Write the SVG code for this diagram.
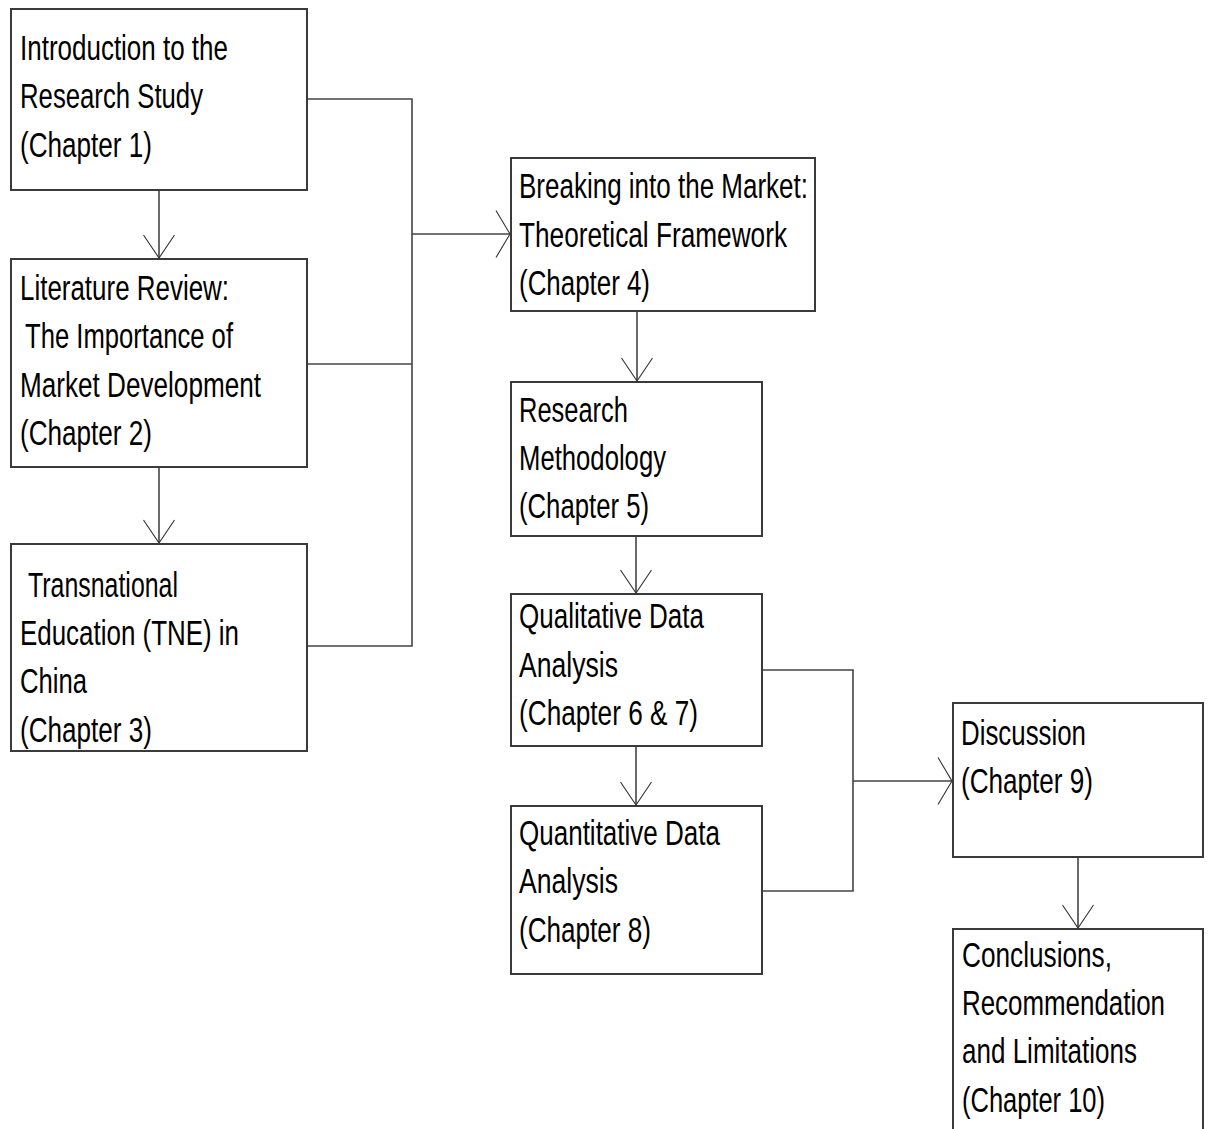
<svg xmlns="http://www.w3.org/2000/svg" width="1211" height="1129" viewBox="0 0 1211 1129">
  <style>
    .box { fill: #ffffff; stroke: #3a3a3a; stroke-width: 2; }
    .lbl { font-family: "Liberation Sans Narrow", "Liberation Sans", Arial, sans-serif; font-size: 35.5px; fill: #000000; }
    .wire { fill: none; stroke: #444444; stroke-width: 1.6; }
    .head { fill: none; stroke: #333333; stroke-width: 1.1; }
  </style>
  <defs>
    <!-- open V arrowheads, one for downward and one for rightward lines -->
    <marker id="arrow-down" markerUnits="userSpaceOnUse" markerWidth="34" markerHeight="26" refX="16" refY="24" orient="0" overflow="visible">
      <path class="head" d="M0.5,1 L16,24 L31.5,1"/>
    </marker>
    <marker id="arrow-right" markerUnits="userSpaceOnUse" markerWidth="18" markerHeight="50" refX="15" refY="24" orient="0" overflow="visible">
      <path class="head" d="M1,0.5 L15,24 L1,47.5"/>
    </marker>
  </defs>
  <rect width="1211" height="1129" fill="#ffffff"/>

  <g id="connectors">
    <!-- chapters 1-3 merge into chapter 4 -->
    <polyline class="wire" points="307,99 412,99 412,646 307,646"/>
    <line class="wire" x1="307" y1="364" x2="412" y2="364"/>
    <line class="wire" x1="412" y1="234" x2="510" y2="234" marker-end="url(#arrow-right)"/>
    <line class="wire" x1="159" y1="190" x2="159" y2="258" marker-end="url(#arrow-down)"/>
    <line class="wire" x1="159" y1="467" x2="159" y2="543" marker-end="url(#arrow-down)"/>
    <!-- central column -->
    <line class="wire" x1="637" y1="311" x2="637" y2="381" marker-end="url(#arrow-down)"/>
    <line class="wire" x1="636" y1="536" x2="636" y2="593" marker-end="url(#arrow-down)"/>
    <line class="wire" x1="636" y1="746" x2="636" y2="805" marker-end="url(#arrow-down)"/>
    <!-- chapters 6-8 merge into chapter 9 -->
    <polyline class="wire" points="762,670 853,670 853,891 762,891"/>
    <line class="wire" x1="853" y1="781" x2="952" y2="781" marker-end="url(#arrow-right)"/>
    <line class="wire" x1="1078" y1="857" x2="1078" y2="928" marker-end="url(#arrow-down)"/>
  </g>

  <g id="ch1">
    <rect class="box" x="11" y="9" width="296" height="181"/>
    <text class="lbl" x="20" y="60" textLength="208" lengthAdjust="spacingAndGlyphs">Introduction to the</text>
    <text class="lbl" x="20" y="108" textLength="183" lengthAdjust="spacingAndGlyphs">Research Study</text>
    <text class="lbl" x="20" y="157" textLength="132" lengthAdjust="spacingAndGlyphs">(Chapter 1)</text>
  </g>

  <g id="ch2">
    <rect class="box" x="11" y="259" width="296" height="208"/>
    <text class="lbl" x="20" y="300" textLength="209" lengthAdjust="spacingAndGlyphs">Literature Review:</text>
    <text class="lbl" x="25" y="348" textLength="208" lengthAdjust="spacingAndGlyphs">The Importance of</text>
    <text class="lbl" x="20" y="397" textLength="241" lengthAdjust="spacingAndGlyphs">Market Development</text>
    <text class="lbl" x="20" y="445" textLength="132" lengthAdjust="spacingAndGlyphs">(Chapter 2)</text>
  </g>

  <g id="ch3">
    <rect class="box" x="11" y="544" width="296" height="207"/>
    <text class="lbl" x="28" y="597" textLength="150" lengthAdjust="spacingAndGlyphs">Transnational</text>
    <text class="lbl" x="20" y="645" textLength="219" lengthAdjust="spacingAndGlyphs">Education (TNE) in</text>
    <text class="lbl" x="20" y="693" textLength="67" lengthAdjust="spacingAndGlyphs">China</text>
    <text class="lbl" x="20" y="742" textLength="132" lengthAdjust="spacingAndGlyphs">(Chapter 3)</text>
  </g>

  <g id="ch4">
    <rect class="box" x="511" y="158" width="304" height="153"/>
    <text class="lbl" x="519" y="198" textLength="289" lengthAdjust="spacingAndGlyphs">Breaking into the Market:</text>
    <text class="lbl" x="519" y="247" textLength="268" lengthAdjust="spacingAndGlyphs">Theoretical Framework</text>
    <text class="lbl" x="519" y="295" textLength="131" lengthAdjust="spacingAndGlyphs">(Chapter 4)</text>
  </g>

  <g id="ch5">
    <rect class="box" x="511" y="382" width="251" height="154"/>
    <text class="lbl" x="519" y="422" textLength="109" lengthAdjust="spacingAndGlyphs">Research</text>
    <text class="lbl" x="519" y="470" textLength="147" lengthAdjust="spacingAndGlyphs">Methodology</text>
    <text class="lbl" x="519" y="518" textLength="130" lengthAdjust="spacingAndGlyphs">(Chapter 5)</text>
  </g>

  <g id="ch6-7">
    <rect class="box" x="511" y="594" width="251" height="152"/>
    <text class="lbl" x="519" y="628" textLength="185" lengthAdjust="spacingAndGlyphs">Qualitative Data</text>
    <text class="lbl" x="519" y="677" textLength="99" lengthAdjust="spacingAndGlyphs">Analysis</text>
    <text class="lbl" x="519" y="725" textLength="179" lengthAdjust="spacingAndGlyphs">(Chapter 6 &amp; 7)</text>
  </g>

  <g id="ch8">
    <rect class="box" x="511" y="806" width="251" height="168"/>
    <text class="lbl" x="519" y="845" textLength="201" lengthAdjust="spacingAndGlyphs">Quantitative Data</text>
    <text class="lbl" x="519" y="893" textLength="99" lengthAdjust="spacingAndGlyphs">Analysis</text>
    <text class="lbl" x="519" y="942" textLength="132" lengthAdjust="spacingAndGlyphs">(Chapter 8)</text>
  </g>

  <g id="ch9">
    <rect class="box" x="953" y="703" width="250" height="154"/>
    <text class="lbl" x="961" y="745" textLength="125" lengthAdjust="spacingAndGlyphs">Discussion</text>
    <text class="lbl" x="961" y="793" textLength="132" lengthAdjust="spacingAndGlyphs">(Chapter 9)</text>
  </g>

  <g id="ch10">
    <!-- the box runs on past the lower edge, so its bottom side is not drawn -->
    <path class="box" d="M953,1129 V929 H1203 V1129"/>
    <text class="lbl" x="962" y="967" textLength="150" lengthAdjust="spacingAndGlyphs">Conclusions,</text>
    <text class="lbl" x="962" y="1015" textLength="203" lengthAdjust="spacingAndGlyphs">Recommendation</text>
    <text class="lbl" x="962" y="1063" textLength="175" lengthAdjust="spacingAndGlyphs">and Limitations</text>
    <text class="lbl" x="962" y="1112" textLength="143" lengthAdjust="spacingAndGlyphs">(Chapter 10)</text>
  </g>
</svg>
